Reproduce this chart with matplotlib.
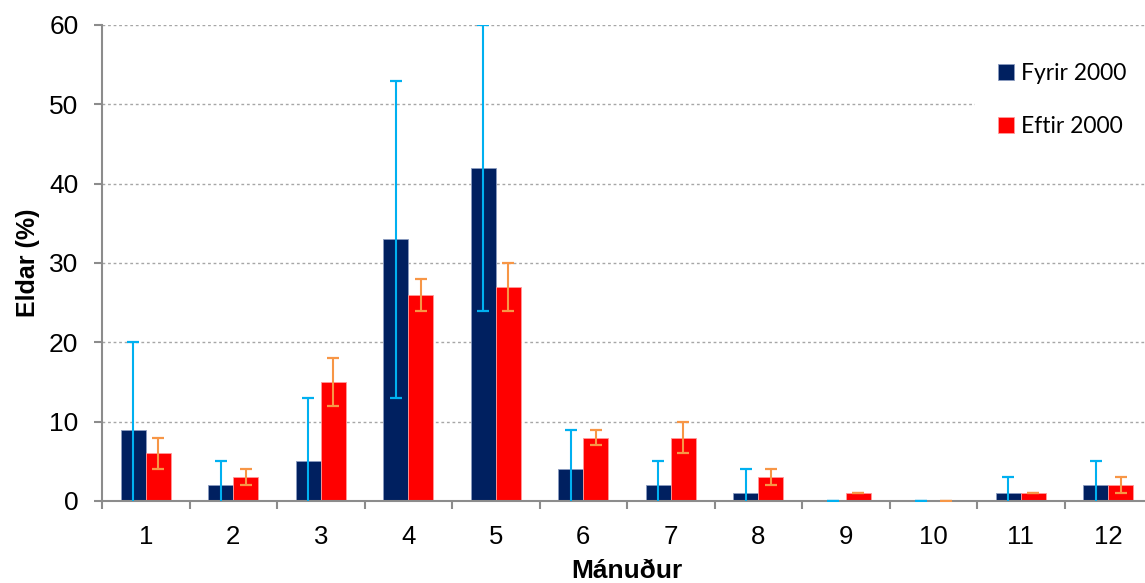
import matplotlib.pyplot as plt
import numpy as np

plt.rcParams['font.family'] = ['Liberation Sans', 'DejaVu Sans']

# data
months = ['1', '2', '3', '4', '5', '6', '7', '8', '9', '10', '11', '12']
fyrir = [9, 2, 5, 33, 42, 4, 2, 1, 0, 0, 1, 2]
fyrir_err = [11, 3, 8, 20, 18, 5, 3, 3, 0, 0, 2, 3]
eftir = [6, 3, 15, 26, 27, 8, 8, 3, 1, 0, 1, 2]
eftir_err = [2, 1, 3, 2, 3, 1, 2, 1, 0, 0, 0, 1]

x = np.arange(len(months))
w = 0.285

fig = plt.figure(figsize=(11.45, 5.83), dpi=100)
ax = fig.add_axes([102 / 1145, 1 - 501 / 583, 1050 / 1145, 476 / 583])

ax.bar(x - w / 2, fyrir, w, color='#002060', edgecolor='#8a9cc0', linewidth=0.6,
       label='Fyrir 2000', zorder=2)
ax.bar(x + w / 2, eftir, w, color='#ff0000', edgecolor='#ff9a9a', linewidth=0.6,
       label='Eftir 2000', zorder=2)

ax.errorbar(x - w / 2, fyrir, yerr=fyrir_err, fmt='none', ecolor='#00b0f0',
            elinewidth=1.5, capsize=4.3, capthick=1.6, zorder=3)
ax.errorbar(x + w / 2, eftir, yerr=eftir_err, fmt='none', ecolor='#f79646',
            elinewidth=1.5, capsize=4.3, capthick=1.6, zorder=3)

ax.set_ylim(0, 60)
ax.set_xlim(-0.5, len(months) - 0.5)
ax.set_yticks(np.arange(0, 61, 10))
ax.set_xticks(x)
ax.set_xticklabels(months)
ax.set_xticks(np.arange(-0.5, len(months), 1), minor=True)
ax.tick_params(axis='x', which='major', length=0, pad=17, labelsize=18.5)
ax.tick_params(axis='x', which='minor', length=6, width=1.5, color='#8c8c8c', direction='out')
ax.tick_params(axis='y', length=6, width=1.5, color='#8c8c8c', labelsize=19, pad=11)

ax.yaxis.grid(True, linestyle=(0, (2, 2)), color='#a6a6a6', linewidth=1, zorder=0)
ax.set_axisbelow(True)

for s in ['top', 'right']:
    ax.spines[s].set_visible(False)
for s in ['left', 'bottom']:
    ax.spines[s].set_color('#8c8c8c')
    ax.spines[s].set_linewidth(1.5)

ax.set_ylabel('Eldar (%)', fontsize=18, fontweight='bold', labelpad=6.5)
ax.set_xlabel('Mánuður', fontsize=19, fontweight='bold', labelpad=7.5)

leg = ax.legend(loc='upper right', bbox_to_anchor=(1.0086, 0.993), frameon=True,
                facecolor='white', edgecolor='none', framealpha=1,
                labelspacing=1.4, handlelength=0.7, handleheight=0.7,
                handletextpad=0.3, borderpad=1.0, fancybox=False,
                prop={'family': ['Lato', 'DejaVu Sans'], 'size': 16.5})

fig.savefig('out.png', dpi=100)
